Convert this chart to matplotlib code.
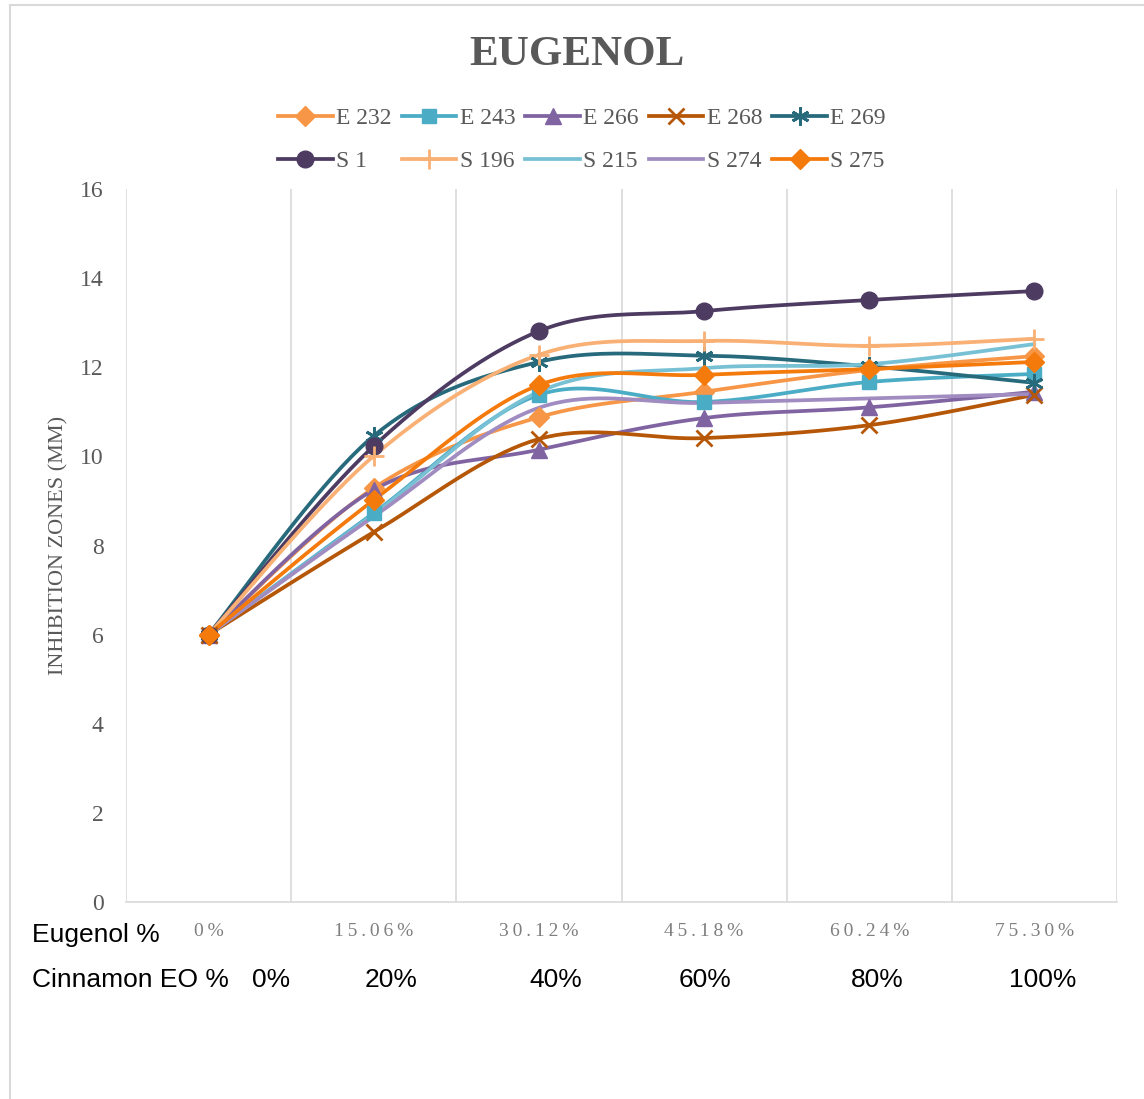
import numpy as np
import matplotlib
matplotlib.use("Agg")
import matplotlib.pyplot as plt
from matplotlib.lines import Line2D

# ---- data -------------------------------------------------------------
eugenol_pct = ["0%", "15.06%", "30.12%", "45.18%", "60.24%", "75.30%"]
cinnamon_pct = ["0%", "20%", "40%", "60%", "80%", "100%"]

e232 = [6, 9.29, 10.88, 11.45, 11.94, 12.25]
e243 = [6, 8.73, 11.38, 11.22, 11.67, 11.85]
e266 = [6, 9.25, 10.15, 10.86, 11.10, 11.45]
e268 = [6, 8.30, 10.39, 10.41, 10.70, 11.38]
e269 = [6, 10.46, 12.12, 12.26, 12.02, 11.65]
s1 = [6, 10.23, 12.81, 13.26, 13.51, 13.71]
s196 = [6, 10.01, 12.28, 12.59, 12.48, 12.64]
s215 = [6, 8.70, 11.45, 11.98, 12.07, 12.52]
s274 = [6, 8.65, 11.09, 11.20, 11.30, 11.40]
s275 = [6, 9.02, 11.60, 11.83, 11.96, 12.12]

series_names = ["E 232", "E 243", "E 266", "E 268", "E 269",
                "S 1", "S 196", "S 215", "S 274", "S 275"]
series_values = [e232, e243, e266, e268, e269, s1, s196, s215, s274, s275]
series_colors = ["#F79646", "#4BACC6", "#8064A2", "#B65708", "#276A7C",
                 "#4D3B62", "#F9B074", "#78C0D4", "#A08CC0", "#F57A0C"]
series_markers = ["D", "s", "^", "x", (6, 2, 0),
                  "o", "+", "None", "None", "D"]
marker_sizes = [10, 10, 11, 11, 13, 12, 15, 0, 0, 10]

GREY = "#595959"
SERIF = ["Liberation Serif", "DejaVu Serif"]
SANS = "Liberation Sans"


def smooth(xs, ys, n=40):
    """Cubic Bezier smoothing through every point (office-style smooth line)."""
    pts = np.column_stack([np.asarray(xs, float), np.asarray(ys, float)])
    out = [pts[0]]
    t = np.linspace(0, 1, n)[1:, None]
    for i in range(len(pts) - 1):
        p0 = pts[i - 1] if i > 0 else pts[i]
        p1 = pts[i]
        p2 = pts[i + 1]
        p3 = pts[i + 2] if i + 2 < len(pts) else pts[i + 1]
        c1 = p1 + (p2 - p0) / 6.0
        c2 = p2 - (p3 - p1) / 6.0
        seg = ((1 - t) ** 3) * p1 + 3 * ((1 - t) ** 2) * t * c1 \
            + 3 * (1 - t) * t ** 2 * c2 + t ** 3 * p2
        out.extend(seg)
    out = np.array(out)
    return out[:, 0], out[:, 1]


def marker_edge(mk):
    return 2.0 if mk in ("x", "+", (6, 2, 0)) else 1.0


fig = plt.figure(figsize=(11.44, 10.99), dpi=100)
ax = fig.add_axes([126 / 1144, 197 / 1099, (1117 - 126) / 1144, (902 - 189) / 1099])

x = np.arange(len(eugenol_pct))
for name, vals, col, mk, ms in zip(series_names, series_values, series_colors,
                                  series_markers, marker_sizes):
    sx, sy = smooth(x, vals)
    ax.plot(sx, sy, color=col, lw=2.7, solid_capstyle="round", zorder=3)
    if mk != "None":
        ax.plot(x, vals, ls="none", marker=mk, ms=ms, color=col,
                mec=col, mew=marker_edge(mk), zorder=4)

ax.set_xlim(-0.5, len(x) - 0.5)
ax.set_ylim(0, 16)
ax.set_yticks(np.arange(0, 17, 2))
ax.set_yticklabels([str(v) for v in range(0, 17, 2)], fontfamily=SERIF,
                   fontsize=17, color=GREY)
ax.tick_params(axis="y", length=0, pad=16)
ax.set_xticks(x)
ax.set_xticklabels([])
ax.tick_params(axis="x", length=0)

# vertical gridlines between categories
for b in np.arange(-0.5, len(x), 1.0):
    ax.axvline(b, color="#D9D9D9", lw=1.2, zorder=1)
for s in ["top", "right", "left"]:
    ax.spines[s].set_visible(False)
ax.spines["bottom"].set_color("#D9D9D9")
ax.spines["bottom"].set_linewidth(1.2)

ax.set_ylabel("INHIBITION ZONES (MM)", fontfamily=SERIF, fontsize=16,
              color=GREY, labelpad=8)

# eugenol row (spaced category labels)
for xi, lab in zip(x, eugenol_pct):
    ax.text(xi, -0.66, "\u2009".join(lab), transform=ax.transData,
            ha="center", va="center", fontfamily=SERIF, fontsize=14,
            color="#7F7F7F", clip_on=False)

fig.text(32 / 1144, 1 - 935 / 1099, "Eugenol %", fontfamily=SANS,
         fontsize=19, color="black", ha="left", va="center")
fig.text(32 / 1144, 1 - 980 / 1099, "Cinnamon EO %", fontfamily=SANS,
         fontsize=19, color="black", ha="left", va="center")
cin_x = [271, 391, 556, 705, 877, 1043]
for cx, lab in zip(cin_x, cinnamon_pct):
    fig.text(cx / 1144, 1 - 980 / 1099, lab, fontfamily=SANS,
             fontsize=19, color="black", ha="center", va="center")

# title
fig.text(577 / 1144, 1 - 55 / 1099, "EUGENOL", fontfamily=SERIF,
         fontweight="bold", fontsize=31, color=GREY, ha="center", va="center")

# legend, filled row by row
handles = []
for col, mk, ms in zip(series_colors, series_markers, marker_sizes):
    handles.append(Line2D([], [], color=col, lw=2.7, marker=mk,
                          ms=ms, mec=col, mew=marker_edge(mk)))
order = [0, 5, 1, 6, 2, 7, 3, 8, 4, 9]
leg = fig.legend(handles=[handles[i] for i in order],
                 labels=[series_names[i] for i in order], ncol=5,
                 loc="center", bbox_to_anchor=(582 / 1144, 1 - 140 / 1099),
                 frameon=False, prop={"family": SERIF, "size": 17},
                 handlelength=2.3, handletextpad=0.15, columnspacing=0.43,
                 labelspacing=0.9, numpoints=1)
for t in leg.get_texts():
    t.set_color(GREY)

# outer chart frame
fig.add_artist(Line2D([10 / 1144, 10 / 1144], [0, 1 - 5 / 1099],
                      transform=fig.transFigure, color="#D9D9D9", lw=1.5))
fig.add_artist(Line2D([10 / 1144, 1], [1 - 5 / 1099, 1 - 5 / 1099],
                      transform=fig.transFigure, color="#D9D9D9", lw=1.5))

fig.savefig("out.png", dpi=100)
